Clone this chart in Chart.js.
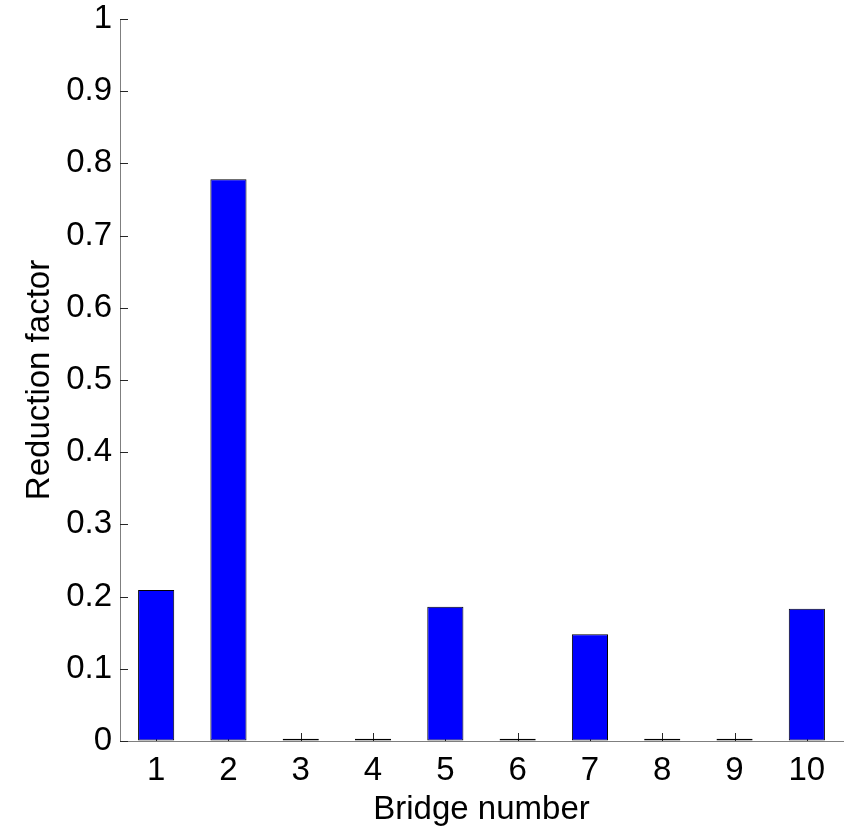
<!DOCTYPE html>
<html>
<head>
<meta charset="utf-8">
<title>Reduction factor by bridge</title>
<script src="https://cdn.jsdelivr.net/npm/chart.js@4.4.0/dist/chart.umd.min.js"></script>
<style>
  html, body { margin: 0; padding: 0; background: #fff; }
  #wrap { width: 850px; height: 827px; }
</style>
</head>
<body>
<div id="wrap"><canvas id="reductionChart" width="850" height="827"></canvas></div>
<script>
// ===== Data =====
const bridges = ["1", "2", "3", "4", "5", "6", "7", "8", "9", "10"];
const reductionFactor = [0.209, 0.778, 0.003, 0.003, 0.186, 0.003, 0.148, 0.003, 0.003, 0.183];
const yTickLabels = ["0", "0.1", "0.2", "0.3", "0.4", "0.5", "0.6", "0.7", "0.8", "0.9", "1"];

const FONT = "'Liberation Sans', Arial, Helvetica, sans-serif";

// MATLAB style ticks pointing into the plot
const inwardTicks = {
  id: "inwardTicks",
  beforeDatasetsDraw(chart) {
    const { ctx, chartArea, scales } = chart;
    const len = 8;
    ctx.save();
    ctx.strokeStyle = "#262626";
    ctx.lineWidth = 1;
    ctx.beginPath();
    scales.x.ticks.forEach((t, i) => {
      const px = Math.round(scales.x.getPixelForTick(i)) + 0.5;
      ctx.moveTo(px, chartArea.bottom);
      ctx.lineTo(px, chartArea.bottom - len);
    });
    scales.y.ticks.forEach((t, i) => {
      const py = Math.round(scales.y.getPixelForTick(i)) + 0.5;
      ctx.moveTo(chartArea.left, py);
      ctx.lineTo(chartArea.left + len, py);
    });
    ctx.stroke();
    ctx.restore();
  }
};

const ctx = document.getElementById("reductionChart");

new Chart(ctx, {
  type: "bar",
  data: {
    labels: bridges,
    datasets: [
      {
        label: "Reduction factor",
        data: reductionFactor,
        backgroundColor: "#0000ff",
        borderColor: "#000000",
        borderWidth: 1,
        borderSkipped: false,
        barPercentage: 0.5,
        categoryPercentage: 1.0,
      },
    ],
  },
  options: {
    responsive: false,
    animation: false,
    layout: { padding: { left: 0, right: 7, top: 19, bottom: 0 } },
    plugins: {
      legend: { display: false },
      tooltip: { enabled: false },
    },
    scales: {
      x: {
        offset: true,
        grid: { display: true, drawOnChartArea: false, drawTicks: false },
        border: { display: true, color: "#7f7f7f", width: 1 },
        ticks: {
          color: "#000",
          padding: 10,
          maxRotation: 0,
          font: { family: FONT, size: 33 },
        },
        title: {
          display: true,
          text: "Bridge number",
          color: "#000",
          padding: { top: 0, bottom: -3 },
          font: { family: FONT, size: 33 },
        },
        afterFit(scale) {
          scale.height = 86;
          scale.paddingLeft = 0;
          scale.paddingRight = 0;
        },
      },
      y: {
        min: 0,
        max: 1,
        grid: { display: true, drawOnChartArea: false, drawTicks: false },
        border: { display: true, color: "#7f7f7f", width: 1 },
        ticks: {
          stepSize: 0.1,
          color: "#000",
          padding: 8,
          font: { family: FONT, size: 33 },
          callback: (v, i) => yTickLabels[i],
        },
        title: {
          display: true,
          text: "Reduction factor",
          color: "#000",
          padding: { top: 20, bottom: 0 },
          font: { family: FONT, size: 33 },
        },
        afterFit(scale) {
          scale.width = 120;
          scale.paddingTop = 0;
          scale.paddingBottom = 0;
        },
      },
    },
  },
  plugins: [inwardTicks],
});
</script>
</body>
</html>
